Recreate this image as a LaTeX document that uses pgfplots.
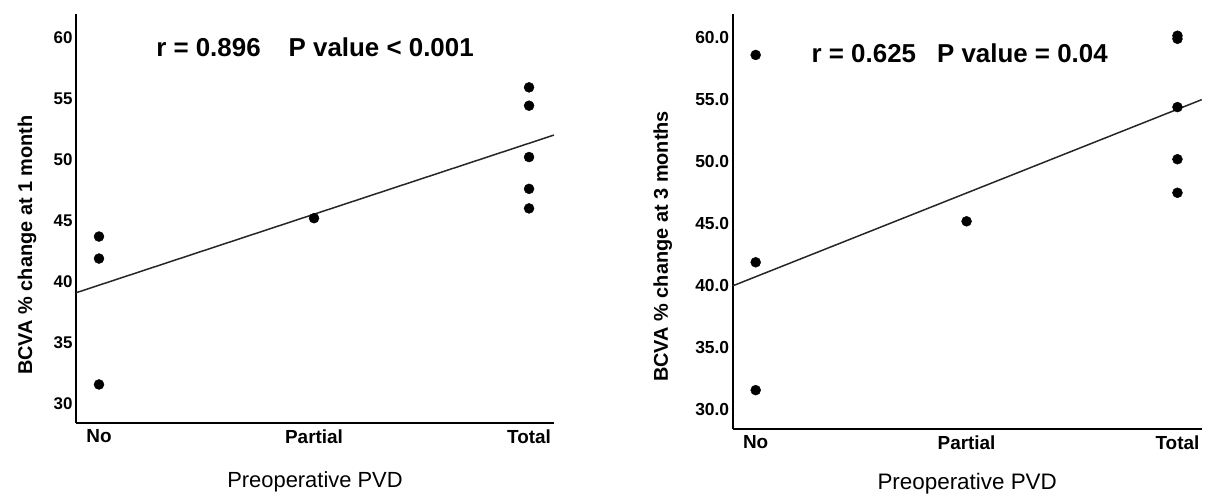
\documentclass[border=0pt]{standalone}
\usepackage{fontspec}
\setmainfont{Liberation Sans}
\usepackage{pgfplots}
\pgfplotsset{compat=1.18}
\pgfplotsset{
  spssstyle/.style={
    scale only axis,
    axis lines=left,
    axis line style={-, line width=2bp, black},
    tick style={draw=none},
    major tick length=0pt,
    /pgf/number format/assume math mode=true,
    xtick={0,1,2},
    xticklabels={No,Partial,Total},
    xticklabel style={font=\bfseries\fontsize{19}{19}\selectfont, yshift=-3bp},
    ytick={30,35,40,45,50,55,60},
    clip=false,
  },
  dots/.style={only marks, mark=*, mark size=5bp, mark options={fill=black, draw=black}},
  fitline/.style={no marks, line width=1.5bp, black!85},
}
\begin{document}
\begin{tikzpicture}
% Left panel
\begin{axis}[spssstyle,
  at={(76bp,74bp)}, anchor=south west,
  width=478bp, height=409bp,
  ymin=28.45, ymax=61.9,
  xmin=-0.107, xmax=2.116,
  yticklabel style={font=\bfseries\fontsize{17}{17}\selectfont},
  ylabel={BCVA \% change at 1 month},
  ylabel style={at={(axis description cs:0,0.435)}, anchor=center, yshift=49bp, font=\bfseries\fontsize{20}{20}\selectfont},
  xlabel={Preoperative PVD},
  xlabel style={at={(axis description cs:0.5,0)}, anchor=center, yshift=-59bp, font=\fontsize{22}{22}\selectfont},
]
\addplot[dots] coordinates {
  (0,43.7) (0,41.9) (0,31.6)
  (1,45.2)
  (2,55.9) (2,54.4) (2,50.2) (2,47.6) (2,46.0)
};
\addplot[fitline] coordinates {(-0.107,39.1) (2.116,52.0)};
\node[font=\bfseries\fontsize{26}{26}\selectfont, anchor=center] at (axis description cs:0.5,0.919) {r = 0.896\hspace{28bp}P value < 0.001};
\end{axis}
% Right panel
\begin{axis}[spssstyle,
  at={(732.7bp,68bp)}, anchor=south west,
  width=469bp, height=415bp,
  ymin=28.47, ymax=61.9,
  xmin=-0.109, xmax=2.115,
  yticklabel style={font=\bfseries\fontsize{17.5}{17.5}\selectfont, /pgf/number format/.cd, fixed, precision=1, zerofill},
  ylabel={BCVA \% change at 3 months},
  ylabel style={at={(axis description cs:0,0.44)}, anchor=center, yshift=70bp, font=\bfseries\fontsize{20}{20}\selectfont},
  xlabel={Preoperative PVD},
  xlabel style={at={(axis description cs:0.5,0)}, anchor=center, yshift=-55bp, font=\fontsize{22.5}{22.5}\selectfont},
]
\addplot[dots] coordinates {
  (0,58.6) (0,41.9) (0,31.6)
  (1,45.2)
  (2,60.15) (2,59.9) (2,54.4) (2,50.2) (2,47.5)
};
\addplot[fitline] coordinates {(-0.109,40.0) (2.115,55.0)};
\node[font=\bfseries\fontsize{26}{26}\selectfont, anchor=center] at (axis description cs:0.484,0.906) {r = 0.625\hspace{21bp}P value = 0.04};
\end{axis}
\pgfresetboundingbox
\path[use as bounding box] (0,0) rectangle (1206bp,497bp);
\end{tikzpicture}
\end{document}
